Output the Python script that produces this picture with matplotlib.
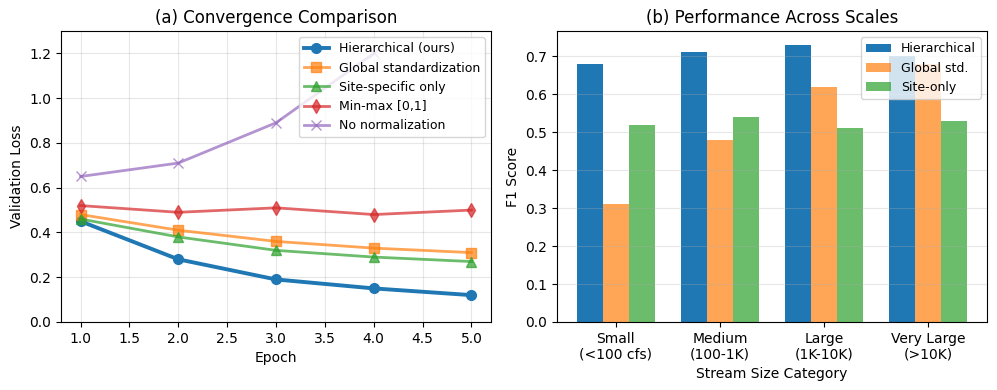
import matplotlib.pyplot as plt
import numpy as np

# Panel (a): validation loss per epoch
epochs = [1, 2, 3, 4, 5]
hierarchical = [0.45, 0.28, 0.19, 0.15, 0.12]
global_std = [0.48, 0.41, 0.36, 0.33, 0.31]
site_only = [0.46, 0.38, 0.32, 0.29, 0.27]
min_max = [0.52, 0.49, 0.51, 0.48, 0.50]
no_norm = [0.65, 0.71, 0.89, 1.20, np.nan]  # last epoch not visible in the source

# Panel (b): F1 by stream size
categories = ['Small\n(<100 cfs)', 'Medium\n(100-1K)', 'Large\n(1K-10K)', 'Very Large\n(>10K)']
f1_hier = [0.68, 0.71, 0.73, 0.70]
f1_global = [0.31, 0.48, 0.62, 0.68]
f1_site = [0.52, 0.54, 0.51, 0.53]

fig, (ax1, ax2) = plt.subplots(1, 2, figsize=(9.97, 3.9), dpi=100)
fig.subplots_adjust(left=0.0612, right=0.990, top=0.9205, bottom=0.1744, wspace=0.1535)

ax1.plot(epochs, hierarchical, 'o-', color='tab:blue', linewidth=2.8, markersize=7, label='Hierarchical (ours)')
ax1.plot(epochs, global_std, 's-', color='tab:orange', linewidth=2, markersize=7, alpha=0.7, label='Global standardization')
ax1.plot(epochs, site_only, '^-', color='tab:green', linewidth=2, markersize=7, alpha=0.7, label='Site-specific only')
ax1.plot(epochs, min_max, 'd-', color='tab:red', linewidth=2, markersize=7, alpha=0.7, label='Min-max [0,1]')
ax1.plot(epochs, no_norm, 'x-', color='tab:purple', linewidth=2, markersize=7, alpha=0.7, label='No normalization')
ax1.set_xlabel('Epoch')
ax1.set_ylabel('Validation Loss')
ax1.set_title('(a) Convergence Comparison', fontsize=12)
ax1.set_ylim(0, 1.3)
ax1.grid(True, alpha=0.3)
ax1.legend(loc='upper right', fontsize=9)

x = np.arange(len(categories))
w = 0.25
ax2.bar(x - w, f1_hier, w, color='tab:blue', label='Hierarchical')
ax2.bar(x, f1_global, w, color='tab:orange', alpha=0.7, label='Global std.')
ax2.bar(x + w, f1_site, w, color='tab:green', alpha=0.7, label='Site-only')
ax2.set_xticks(x)
ax2.set_xticklabels(categories)
ax2.set_xlabel('Stream Size Category')
ax2.set_ylabel('F1 Score')
ax2.set_title('(b) Performance Across Scales', fontsize=12)
ax2.grid(True, alpha=0.3, axis='y')
ax2.legend(loc='upper right', fontsize=9)

plt.savefig('out.png', dpi=100)
